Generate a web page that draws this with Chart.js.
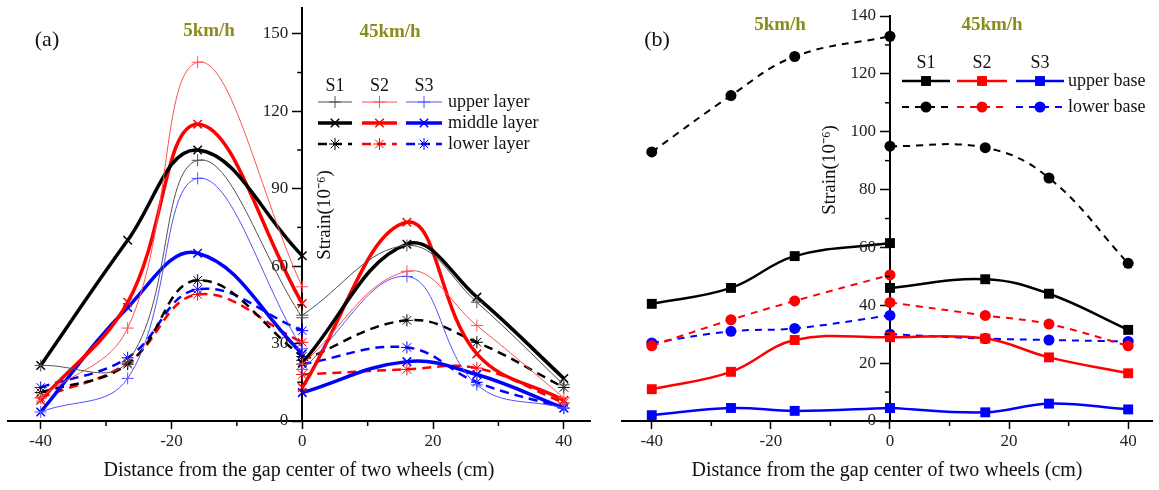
<!DOCTYPE html>
<html>
<head>
<meta charset="utf-8">
<script src="https://cdn.jsdelivr.net/npm/chart.js@4/dist/chart.umd.min.js"></script>
<style>
  body { margin: 0; background: #fff; }
  #wrap { position: relative; width: 1159px; height: 490px; }
  canvas { position: absolute; top: 0; }
</style>
</head>
<body>
<div id="wrap">
  <canvas id="chartA" width="600" height="490" style="left:0"></canvas>
  <canvas id="chartB" width="559" height="490" style="left:600px"></canvas>
</div>
<script>
// x positions of the measuring points
const xLeft = [-40, -26.7, -16, 0];    // 5 km/h
const xRight = [0, 16, 26.7, 40];      // 45 km/h
const xTicks = [-40, -20, 0, 20, 40];
const xMinor = [-30, -10, 10, 30];

// (a) 5 km/h
const a5_S1_upper  = [21.5, 23, 101, 40];
const a5_S1_middle = [21.5, 70, 105, 64];
const a5_S1_lower  = [11, 22, 54.5, 25];
const a5_S2_upper  = [9, 36, 139, 52];
const a5_S2_middle = [8, 46, 115, 45.5];
const a5_S2_lower  = [9, 22.5, 49, 30.5];
const a5_S3_upper  = [3.5, 16.5, 94, 28];
const a5_S3_middle = [3.5, 44, 65, 26];
const a5_S3_lower  = [13, 24.5, 51, 35];
// (a) 45 km/h
const a45_S1_upper  = [41, 68, 46, 14];
const a45_S1_middle = [22.5, 68.5, 48, 16.5];
const a45_S1_lower  = [23.5, 39, 30.5, 13];
const a45_S2_upper  = [22, 58, 37, 9];
const a45_S2_middle = [13, 77, 26, 8];
const a45_S2_lower  = [18, 20, 20.5, 7];
const a45_S3_upper  = [20, 56, 14, 5];
const a45_S3_middle = [11, 23, 18, 5];
const a45_S3_lower  = [22, 28.5, 15, 5];
const aYTicks = [0, 30, 60, 90, 120, 150];
const aYMinor = [15, 45, 75, 105, 135];

// (b) 5 km/h
const b5_S1_upper = [40.5, 46, 57, 61.5];
const b5_S1_lower = [93, 112.5, 126, 133];
const b5_S2_upper = [11, 17, 28, 29];
const b5_S2_lower = [26, 35, 41.5, 50.5];
const b5_S3_upper = [2, 4.5, 3.5, 4.5];
const b5_S3_lower = [27, 31, 32, 36.5];
// (b) 45 km/h
const b45_S1_upper = [46, 49, 44, 31.5];
const b45_S1_lower = [95, 94.5, 84, 54.5];
const b45_S2_upper = [29, 28.5, 22, 16.5];
const b45_S2_lower = [41, 36.5, 33.5, 26];
const b45_S3_upper = [4.5, 3, 6, 4];
const b45_S3_lower = [30, 28.5, 28, 27.5];
const bYTicks = [0, 20, 40, 60, 80, 100, 120, 140];
const bYMinor = [10, 30, 50, 70, 90, 110, 130];

const seriesNames = ['S1', 'S2', 'S3'];
const fullColors = ['#000000', '#ff0000', '#0000ff'];
const thinColors = ['#505050', '#ff5050', '#5050ff'];
const serif = 'Liberation Serif';
const olive = '#8c8c1c';

const stylesA = {
  upper:  { width: 1,   dash: [],     pointStyle: 'cross',    radius: 6, pbw: 1,   colors: thinColors, label: 'upper layer' },
  middle: { width: 3.5, dash: [],     pointStyle: 'crossRot', radius: 6, pbw: 1.5, colors: fullColors, label: 'middle layer' },
  lower:  { width: 2.5, dash: [9, 6], pointStyle: 'star',     radius: 6, pbw: 1,   colors: fullColors, label: 'lower layer' }
};
const stylesB = {
  upper: { width: 2.5, dash: [],     pointStyle: 'rect',   radius: 7,   pbw: 0, colors: fullColors, label: 'upper base' },
  lower: { width: 2,   dash: [7, 6], pointStyle: 'circle', radius: 5.5, pbw: 0, colors: fullColors, label: 'lower base' }
};

const aGroups = {
  upper:  [[a5_S1_upper, a45_S1_upper], [a5_S2_upper, a45_S2_upper], [a5_S3_upper, a45_S3_upper]],
  middle: [[a5_S1_middle, a45_S1_middle], [a5_S2_middle, a45_S2_middle], [a5_S3_middle, a45_S3_middle]],
  lower:  [[a5_S1_lower, a45_S1_lower], [a5_S2_lower, a45_S2_lower], [a5_S3_lower, a45_S3_lower]]
};
const bGroups = {
  upper: [[b5_S1_upper, b45_S1_upper], [b5_S2_upper, b45_S2_upper], [b5_S3_upper, b45_S3_upper]],
  lower: [[b5_S1_lower, b45_S1_lower], [b5_S2_lower, b45_S2_lower], [b5_S3_lower, b45_S3_lower]]
};

function points(xs, ys) { return xs.map((x, i) => ({ x: x, y: ys[i] })); }

function buildDatasets(groups, styles) {
  const out = [];
  Object.keys(groups).forEach(layer => {
    const st = styles[layer];
    groups[layer].forEach((pair, s) => {
      [[xLeft, pair[0]], [xRight, pair[1]]].forEach(([xs, ys]) => {
        out.push({
          label: seriesNames[s] + ' ' + st.label,
          data: points(xs, ys),
          borderColor: st.colors[s],
          backgroundColor: st.colors[s],
          borderWidth: st.width,
          borderDash: st.dash,
          pointStyle: st.pointStyle,
          pointRadius: st.radius,
          pointBorderWidth: st.pbw,
          tension: 0.4,
          fill: false
        });
      });
    });
  });
  return out;
}

// minor ticks, y tick labels, legend and free text
function decorations(cfg) {
  return {
    id: 'decor',
    afterDraw(chart) {
      const ctx = chart.ctx;
      const xs = chart.scales.x, ys = chart.scales.y;
      const axisX = xs.getPixelForValue(0), axisY = ys.getPixelForValue(0);
      ctx.save();
      ctx.strokeStyle = '#000';
      ctx.lineWidth = 1.5;
      cfg.yMinor.forEach(v => {
        const p = ys.getPixelForValue(v);
        ctx.beginPath(); ctx.moveTo(axisX, p); ctx.lineTo(axisX - 5, p); ctx.stroke();
      });
      xMinor.forEach(v => {
        const p = xs.getPixelForValue(v);
        ctx.beginPath(); ctx.moveTo(p, axisY); ctx.lineTo(p, axisY + 5); ctx.stroke();
      });

      // y tick labels, left of the central axis
      ctx.font = '17px "' + serif + '"';
      ctx.fillStyle = '#222';
      ctx.textAlign = 'right';
      ctx.textBaseline = 'middle';
      cfg.yTicks.forEach(v => ctx.fillText(String(v), axisX - 14, ys.getPixelForValue(v)));

      // legend
      const lg = cfg.legend;
      ctx.fillStyle = '#111';
      ctx.font = lg.font;
      ctx.textAlign = 'center';
      lg.cols.forEach((c, i) => ctx.fillText(seriesNames[i], (c[0] + c[1]) / 2, lg.headerY));
      lg.rows.forEach(row => {
        const st = cfg.styles[row.layer];
        lg.cols.forEach((c, i) => {
          ctx.strokeStyle = st.colors[i];
          ctx.fillStyle = st.colors[i];
          ctx.lineWidth = st.width;
          ctx.setLineDash(st.dash);
          ctx.beginPath(); ctx.moveTo(c[0], row.y); ctx.lineTo(c[1], row.y); ctx.stroke();
          ctx.setLineDash([]);
          ctx.lineWidth = st.pbw;
          Chart.helpers.drawPoint(ctx, { pointStyle: st.pointStyle, radius: st.radius, rotation: 0, borderWidth: st.pbw }, (c[0] + c[1]) / 2, row.y);
        });
        ctx.fillStyle = '#111';
        ctx.textAlign = 'left';
        ctx.fillText(st.label, lg.textX, row.y);
        ctx.textAlign = 'center';
      });

      // texts
      cfg.texts.forEach(t => {
        ctx.save();
        ctx.font = t.font;
        ctx.fillStyle = t.color || '#111';
        ctx.textAlign = 'center';
        ctx.textBaseline = 'middle';
        const x = t.fromAxis ? axisX + t.x : t.x;
        ctx.translate(x, t.y);
        if (t.rotate) ctx.rotate(t.rotate);
        ctx.fillText(t.text, 0, 0);
        ctx.restore();
      });
      ctx.restore();
    }
  };
}

function makeOptions(yMax, yTicks, padding) {
  const tickFont = { family: serif, size: 17 };
  return {
    responsive: false,
    animation: false,
    devicePixelRatio: 1,
    layout: { padding: padding },
    plugins: { legend: { display: false }, tooltip: { enabled: false } },
    scales: {
      x: {
        type: 'linear',
        min: -45, max: 44,
        position: 'bottom',
        afterBuildTicks: s => { s.ticks = xTicks.map(v => ({ value: v })); },
        afterFit: s => { s.height = 69; },
        grid: { drawOnChartArea: false, drawTicks: true, tickLength: 8, color: '#000', tickWidth: 1.5 },
        border: { display: true, color: '#000', width: 2 },
        ticks: { color: '#222', font: tickFont, padding: 2, maxRotation: 0 },
        title: { display: true, text: 'Distance from the gap center of two wheels (cm)', color: '#111',
                 font: { family: serif, size: 20 }, padding: { top: 0, bottom: 7 } }
      },
      y: {
        type: 'linear',
        min: 0, max: yMax,
        position: { x: 0 },
        afterBuildTicks: s => { s.ticks = yTicks.map(v => ({ value: v })); },
        grid: { drawOnChartArea: false, drawTicks: true, tickLength: 9, color: '#000', tickWidth: 1.5 },
        border: { display: true, color: '#000', width: 2 },
        ticks: { display: false }
      }
    }
  };
}

new Chart(document.getElementById('chartA'), {
  type: 'line',
  data: { datasets: buildDatasets(aGroups, stylesA) },
  options: makeOptions(160, aYTicks, { left: 8, right: 10, top: 8, bottom: 0 }),
  plugins: [decorations({
    yMinor: aYMinor,
    yTicks: aYTicks,
    styles: stylesA,
    legend: {
      font: '18px "' + serif + '"',
      headerY: 86,
      cols: [[318, 352], [362, 397], [406, 442]],
      textX: 448,
      rows: [{ layer: 'upper', y: 102 }, { layer: 'middle', y: 123 }, { layer: 'lower', y: 144 }]
    },
    texts: [
      { text: '(a)', x: 47, y: 40, font: '22px "' + serif + '"' },
      { text: '5km/h', x: 209, y: 31, font: 'bold 19px "' + serif + '"', color: olive },
      { text: '45km/h', x: 390, y: 32, font: 'bold 19px "' + serif + '"', color: olive },
      { text: 'Strain(10\u207B\u2076)', fromAxis: true, x: 23, y: 215, rotate: -Math.PI / 2, font: '19px "' + serif + '"' }
    ]
  })]
});

new Chart(document.getElementById('chartB'), {
  type: 'line',
  data: { datasets: buildDatasets(bGroups, stylesB) },
  options: makeOptions(140, bYTicks, { left: 22, right: 0, top: 16, bottom: 0 }),
  plugins: [decorations({
    yMinor: bYMinor,
    yTicks: bYTicks,
    styles: stylesB,
    legend: {
      font: '18px "' + serif + '"',
      headerY: 63,
      cols: [[302, 350], [357, 407], [416, 464]],
      textX: 468,
      rows: [{ layer: 'upper', y: 81 }, { layer: 'lower', y: 107 }]
    },
    texts: [
      { text: '(b)', x: 57, y: 40, font: '22px "' + serif + '"' },
      { text: '5km/h', x: 180, y: 25, font: 'bold 19px "' + serif + '"', color: olive },
      { text: '45km/h', x: 392, y: 25, font: 'bold 19px "' + serif + '"', color: olive },
      { text: 'Strain(10\u207B\u2076)', fromAxis: true, x: -60, y: 170, rotate: -Math.PI / 2, font: '19px "' + serif + '"' }
    ]
  })]
});
</script>
</body>
</html>
